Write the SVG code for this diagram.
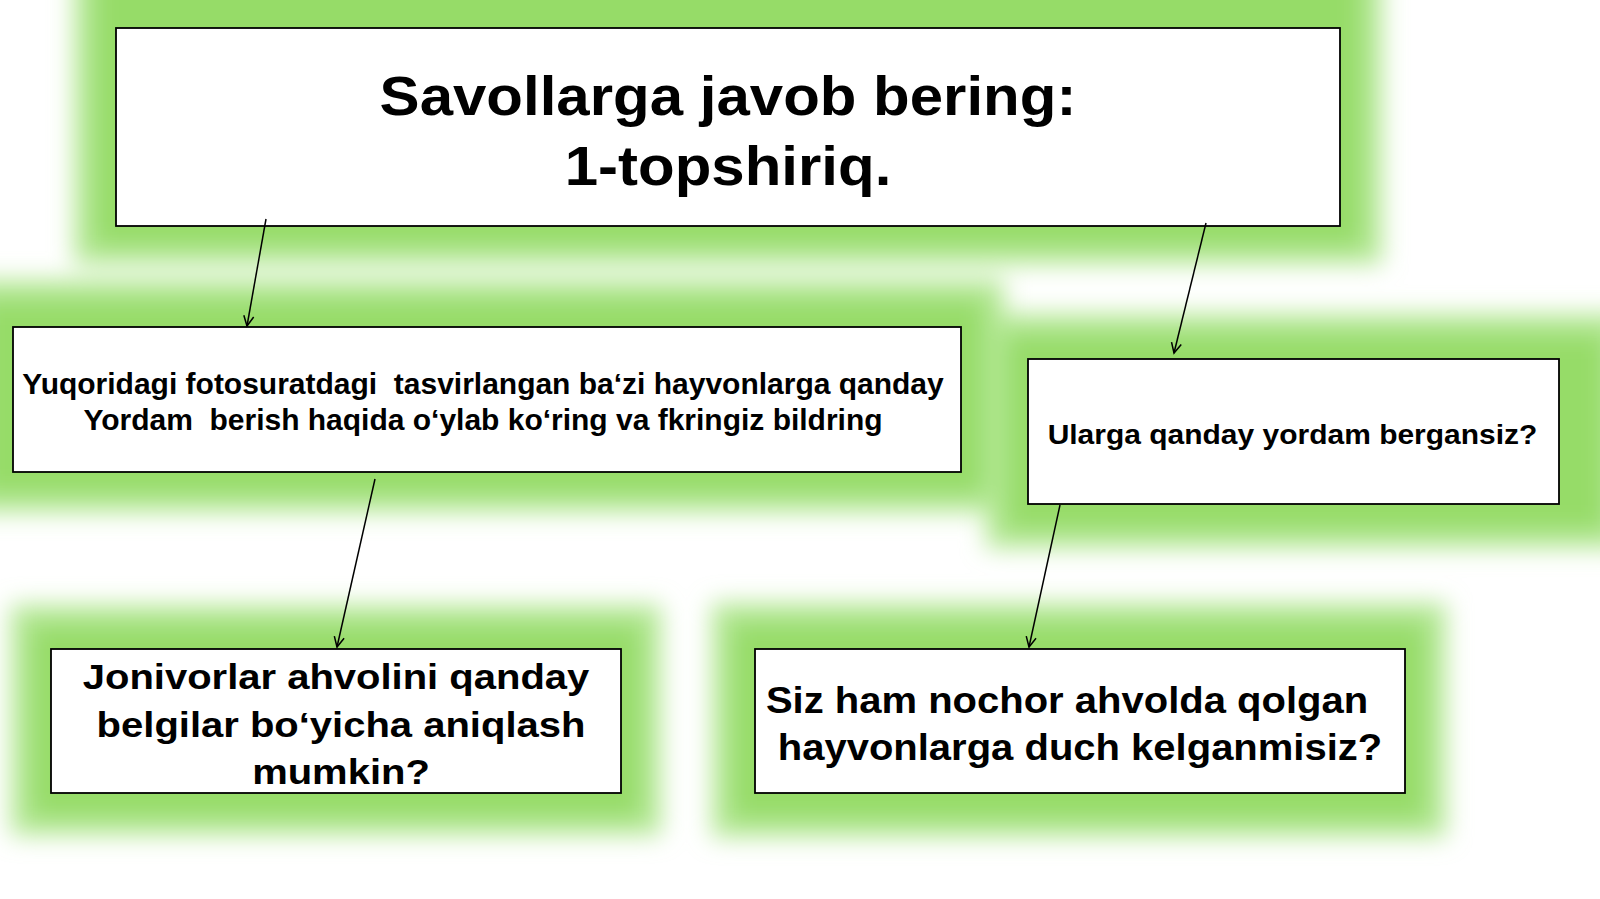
<svg xmlns="http://www.w3.org/2000/svg" width="1600" height="899" viewBox="0 0 1600 899">
<style>
.box{fill:#ffffff;stroke:#000000;stroke-width:1.8}
.glow{fill:#b4e894}
.glow2{fill:#96dc68}
.t{font-family:"Liberation Sans",Arial,sans-serif;font-weight:bold;fill:#000000;text-anchor:middle;white-space:pre}
.conn{stroke:#000000;stroke-width:1.5;fill:none;marker-end:url(#arr)}
</style>
<defs>
<filter id="blur" x="-10%" y="-30%" width="120%" height="160%">
<feGaussianBlur stdDeviation="12"/>
</filter>
<marker id="arr" markerUnits="userSpaceOnUse" markerWidth="14" markerHeight="14" refX="11" refY="6" orient="auto">
<path d="M1,1 L11,6 L1,11" fill="none" stroke="#000000" stroke-width="1.5"/>
</marker>
</defs>
<rect width="1600" height="899" fill="#ffffff"/>
<g id="glows" filter="url(#blur)">
<rect class="glow" x="74" y="-40" width="1308" height="304"/>
<rect class="glow" x="-40" y="280" width="1044" height="232"/>
<rect class="glow" x="986" y="314" width="640" height="234"/>
<rect class="glow" x="11" y="605" width="650" height="230"/>
<rect class="glow" x="712" y="603" width="734" height="234"/>
<rect class="glow2" x="94" y="-30" width="1268" height="276"/>
<rect class="glow2" x="-20" y="300" width="1004" height="194"/>
<rect class="glow2" x="1006" y="334" width="600" height="196"/>
<rect class="glow2" x="31" y="625" width="610" height="192"/>
<rect class="glow2" x="732" y="623" width="694" height="196"/>
</g>
<g id="node-title">
<rect class="box" x="116" y="28" width="1224" height="198"/>
<text class="t" font-size="60" transform="translate(728,115) scale(1,0.915)">Savollarga javob bering:</text>
<text class="t" font-size="60" transform="translate(728,185) scale(1,0.915)">1-topshiriq.</text>
</g>
<g id="node-left">
<rect class="box" x="13" y="327" width="948" height="145"/>
<text class="t" font-size="30" transform="translate(483,393.5) scale(1,0.96)">Yuqoridagi fotosuratdagi  tasvirlangan ba‘zi hayvonlarga qanday</text>
<text class="t" font-size="30" transform="translate(483,429.5) scale(1,0.96)">Yordam  berish haqida o‘ylab ko‘ring va fkringiz bildring</text>
</g>
<g id="node-right">
<rect class="box" x="1028" y="359" width="531" height="145"/>
<text class="t" font-size="30" transform="translate(1292.5,443.5) scale(1,0.9)">Ularga qanday yordam bergansiz?</text>
</g>
<g id="node-bottom-left">
<rect class="box" x="51" y="649" width="570" height="144"/>
<text class="t" font-size="40" transform="translate(336,688.5) scale(1,0.88)">Jonivorlar ahvolini qanday</text>
<text class="t" font-size="40" transform="translate(341,736.5) scale(1,0.88)">belgilar bo‘yicha aniqlash</text>
<text class="t" font-size="40" transform="translate(341,783.5) scale(1,0.88)">mumkin?</text>
</g>
<g id="node-bottom-right">
<rect class="box" x="755" y="649" width="650" height="144"/>
<text class="t" font-size="40" transform="translate(1067,713) scale(1,0.9)">Siz ham nochor ahvolda qolgan</text>
<text class="t" font-size="40" transform="translate(1080,760) scale(1,0.9)">hayvonlarga duch kelganmisiz?</text>
</g>
<g id="connectors">
<line class="conn" x1="266" y1="219" x2="247" y2="326"/>
<line class="conn" x1="1206" y1="223" x2="1174" y2="353"/>
<line class="conn" x1="375" y1="479" x2="337" y2="647"/>
<line class="conn" x1="1060" y1="505" x2="1029" y2="647"/>
</g>
</svg>
